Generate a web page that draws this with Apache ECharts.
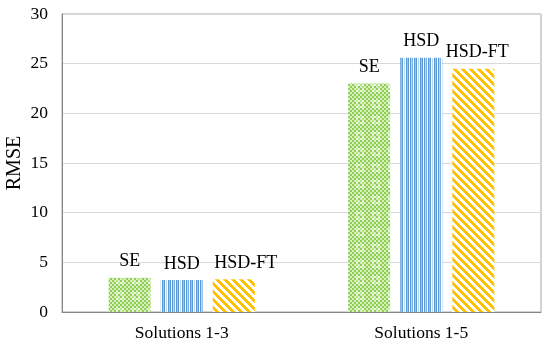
<!DOCTYPE html>
<html><head><meta charset="utf-8">
<script src="https://cdn.jsdelivr.net/npm/echarts@6/dist/echarts.min.js"></script>
<style>html,body{margin:0;padding:0;background:#fff}#c{width:550px;height:349px}</style>
</head><body><div id="c"></div>
<script>
const categories = ['Solutions 1-3', 'Solutions 1-5'];
const seriesNames = ['SE', 'HSD', 'HSD-FT'];
const seValues = [3.45, 23.0];
const hsdValues = [3.22, 25.6];
const hsdftValues = [3.3, 24.5];
const yTicks = { min: 0, max: 30, interval: 5 };

function makeCanvas(w, h, draw) {
  const c = document.createElement('canvas');
  c.width = w; c.height = h;
  const ctx = c.getContext('2d');
  draw(ctx);
  return c;
}
const greenPat = makeCanvas(16, 16, ctx => {
  ctx.fillStyle = '#a9dc78'; ctx.fillRect(0, 0, 16, 16);
  for (let y = 0; y < 16; y += 2) for (let x = 0; x < 16; x += 2) {
    if (((x + y) / 2) % 2 === 0) { ctx.fillStyle = '#8fcf4f'; ctx.fillRect(x, y, 2, 2); }
    else { ctx.fillStyle = '#d9efc3'; ctx.fillRect(x, y, 2, 2); }
  }
  ctx.fillStyle = 'rgba(255,255,255,0.35)';
  ctx.fillRect(4, 4, 8, 2); ctx.fillRect(4, 10, 8, 2);
  ctx.fillRect(4, 4, 2, 8); ctx.fillRect(10, 4, 2, 8);
});
const bluePat = makeCanvas(14, 4, ctx => {
  ctx.fillStyle = '#ffffff'; ctx.fillRect(0, 0, 14, 4);
  const cols = ['#5b9bd5', '#9dc3e6', '#5b9bd5', '#ffffff', '#5b9bd5', '#bdd7ee', '#7fb0e0', '#ffffff', '#5b9bd5', '#9dc3e6', '#5b9bd5', '#ffffff', '#bdd7ee', '#ffffff'];
  cols.forEach((c, i) => { ctx.fillStyle = c; ctx.fillRect(i, 0, 1, 4); });
});
const orangePat = makeCanvas(8, 8, ctx => {
  ctx.fillStyle = '#ffffff'; ctx.fillRect(0, 0, 8, 8);
  ctx.fillStyle = '#ffc000';
  for (let y = 0; y < 8; y++) for (let x = 0; x < 8; x++) {
    const d = ((x - y) % 8 + 8) % 8;
    if (d < 4) ctx.fillRect(x, y, 1, 1);
  }
});

const chart = echarts.init(document.getElementById('c'), null, { renderer: 'canvas' });
const font = '"Liberation Serif", "Times New Roman", serif';
const lbl = { show: true, position: 'top', distance: 7, color: '#000', fontFamily: font, fontSize: 18, formatter: p => p.seriesName };
// label horizontal nudges (style only), per category
const ftLabelShift = [12, 4];
const withShift = (vals, shifts) => vals.map((v, i) => ({ value: v, label: { offset: [shifts[i], 0] } }));
chart.setOption({
  animation: false,
  grid: { left: 62, right: 9, top: 14, bottom: 37, show: true, borderColor: '#a6a6a6', borderWidth: 1, containLabel: false, outerBoundsMode: 'none' },
  xAxis: {
    type: 'category', data: categories,
    axisLine: { lineStyle: { color: '#868686' } },
    axisTick: { show: false },
    axisLabel: { color: '#000', fontFamily: font, fontSize: 17.5, margin: 12 }
  },
  yAxis: {
    type: 'value', min: yTicks.min, max: yTicks.max, interval: yTicks.interval,
    name: 'RMSE', nameLocation: 'middle', nameGap: 37, nameMoveOverlap: false,
    nameTextStyle: { color: '#000', fontFamily: font, fontSize: 20 },
    axisLine: { show: true, lineStyle: { color: '#868686' } },
    axisTick: { show: false },
    axisLabel: { color: '#000', fontFamily: font, fontSize: 17.5, margin: 14 },
    splitLine: { lineStyle: { color: '#d9d9d9' } }
  },
  series: [
    { name: seriesNames[0], type: 'bar', data: seValues, barWidth: 42, barGap: '24%', itemStyle: { color: { image: greenPat, repeat: 'repeat' } }, label: lbl },
    { name: seriesNames[1], type: 'bar', data: hsdValues, barWidth: 42, barGap: '24%', itemStyle: { color: { image: bluePat, repeat: 'repeat' } }, label: lbl },
    { name: seriesNames[2], type: 'bar', data: withShift(hsdftValues, ftLabelShift), barWidth: 42, barGap: '24%', itemStyle: { color: { image: orangePat, repeat: 'repeat' } }, label: lbl }
  ]
});
</script></body></html>
